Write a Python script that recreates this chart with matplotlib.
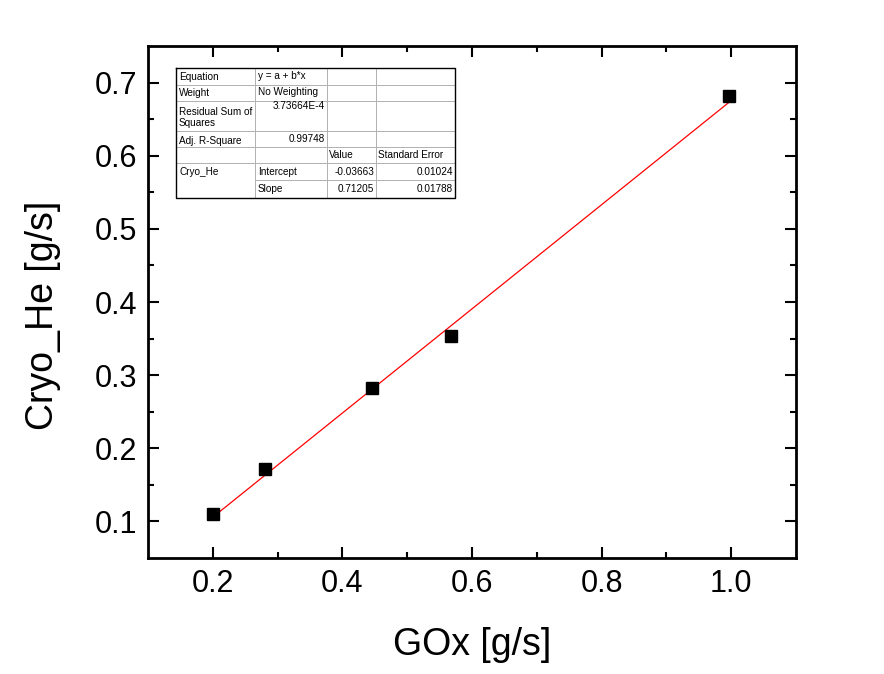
import matplotlib.pyplot as plt
from matplotlib.lines import Line2D

plt.rcParams["font.family"] = ["Liberation Sans", "DejaVu Sans"]

# measured points
gox = [0.2, 0.28, 0.446, 0.567, 0.997]
cryo_he = [0.110, 0.171, 0.283, 0.353, 0.681]

# linear fit results (from the Origin report)
intercept = -0.03663
slope = 0.71205
fit_x = [0.2, 1.0]

xticks = [0.2, 0.4, 0.6, 0.8, 1.0]
yticks = [0.1, 0.2, 0.3, 0.4, 0.5, 0.6, 0.7]

fig = plt.figure(figsize=(8.84, 6.74), dpi=100)
W, H = 884, 674
ax = fig.add_axes([148 / W, 1 - 558 / H, (796 - 148) / W, (558 - 46) / H])

ax.plot(fit_x, [intercept + slope * x for x in fit_x], color="red", lw=0.9, zorder=2)
ax.plot(gox, cryo_he, "s", color="black", ms=8.5, zorder=3)

ax.set_xlim(0.1, 1.1)
ax.set_ylim(0.05, 0.75)
ax.set_xticks(xticks)
ax.set_xticklabels([f"{t:.1f}" for t in xticks])
ax.set_yticks(yticks)
ax.set_yticklabels([f"{t:.1f}" for t in yticks])
ax.set_xticks([0.3, 0.5, 0.7, 0.9], minor=True)
ax.set_yticks([0.15, 0.25, 0.35, 0.45, 0.55, 0.65], minor=True)
ax.tick_params(which="both", direction="in", top=True, right=True, width=1.5,
               labelsize=22, pad=8)
ax.tick_params(which="major", length=8)
ax.tick_params(which="minor", length=4.5)
for s in ax.spines.values():
    s.set_linewidth(2)

ax.set_xlabel("GOx [g/s]", fontsize=27, labelpad=20)
ax.set_ylabel("Cryo_He [g/s]", fontsize=27, labelpad=24)
ax.yaxis.label.set_y(0.473)

# fit report table, drawn in pixel coordinates
tx = fig.add_axes([176 / W, 1 - 198 / H, (455 - 176) / W, (198 - 68) / H])
tx.set_xlim(176, 455)
tx.set_ylim(198, 68)
tx.axis("off")

grey = "#b0b0b0"
cols = [255, 327, 376]
rows = [85, 101, 131, 147, 163]
for c in cols:
    tx.add_line(Line2D([c, c], [68, 198], color=grey, lw=0.7, clip_on=False))
for r in rows:
    tx.add_line(Line2D([176, 455], [r, r], color=grey, lw=0.7, clip_on=False))
tx.add_line(Line2D([255, 455], [180, 180], color=grey, lw=0.7, clip_on=False))
tx.add_line(Line2D([176, 455, 455, 176, 176], [68, 68, 198, 198, 68],
                   color="black", lw=1.0, clip_on=False))

fs = 7.2
left_cells = [
    (179, 77, "Equation"), (179, 93, "Weight"), (179, 112, "Residual Sum of"),
    (179, 123, "Squares"), (179, 141, "Adj. R-Square"), (179, 172, "Cryo_He"),
    (258, 76, "y = a + b*x"), (258, 92, "No Weighting"), (258, 172, "Intercept"),
    (258, 189, "Slope"), (329, 155, "Value"), (378, 155, "Standard Error"),
]
right_cells = [
    (325, 106, "3.73664E-4"), (325, 139, "0.99748"), (374, 172, "-0.03663"),
    (374, 189, "0.71205"), (453, 172, "0.01024"), (453, 189, "0.01788"),
]
for x, y, s in left_cells:
    tx.text(x, y, s, fontsize=fs, ha="left", va="center")
for x, y, s in right_cells:
    tx.text(x, y, s, fontsize=fs, ha="right", va="center")

fig.savefig("out.png", dpi=100)
